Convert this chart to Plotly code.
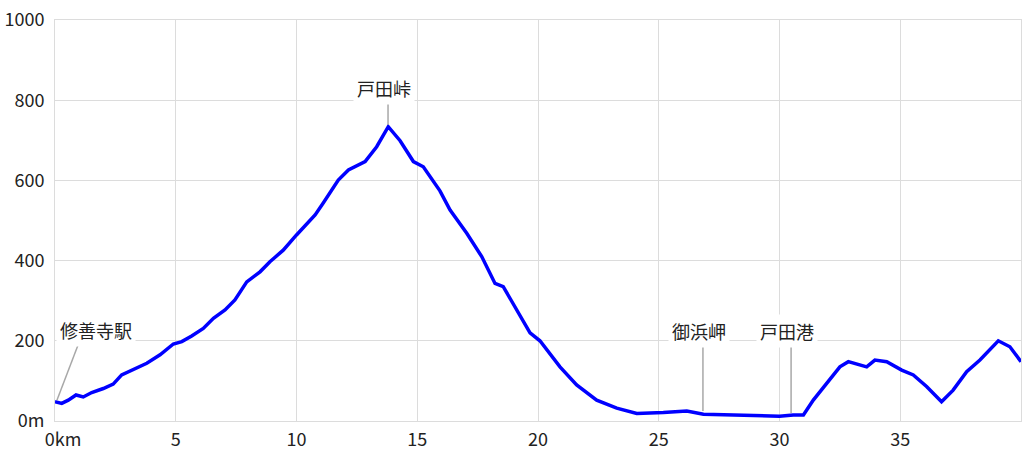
import plotly.graph_objects as go

# Elevation profile (distance km, elevation m)
dist_km = [0.0, 0.28, 0.55, 0.87, 1.17, 1.52, 2.0, 2.41, 2.76, 3.1, 3.8, 4.35, 4.9, 5.25,
           5.66, 6.14, 6.56, 7.04, 7.45, 7.94, 8.49, 8.9, 9.45, 10.0, 10.77, 11.1, 11.73,
           12.15, 12.84, 13.32, 13.8, 14.29, 14.84, 15.25, 15.94, 16.36, 17.05, 17.67,
           18.22, 18.56, 19.12, 19.67, 20.08, 20.91, 21.6, 22.43, 23.26, 24.09, 25.19,
           26.16, 26.85, 27.95, 29.06, 30.0, 30.57, 30.99, 31.4, 31.95, 32.5, 32.85,
           33.26, 33.61, 33.95, 34.44, 35.06, 35.54, 36.09, 36.71, 37.19, 37.75, 38.3,
           39.06, 39.54, 40.0]
elev_m = [48, 44, 52, 65, 60, 71, 81, 92, 115, 125, 144, 165, 192, 198,
          212, 231, 256, 277, 302, 347, 372, 397, 426, 464, 514, 543, 601,
          626, 647, 684, 734, 699, 647, 634, 574, 526, 468, 410,
          343, 335, 277, 220, 200, 135, 90, 52, 32, 19, 21,
          25, 17, 16, 13, 12, 15, 15, 52, 94, 135, 148,
          140, 135, 152, 148, 127, 115, 86, 48, 77, 123, 152,
          200, 185, 148]

# Place labels
label_text = ["修善寺駅", "戸田峠", "御浜岬", "戸田港"]
label_km = [1.70, 13.62, 26.67, 30.31]
label_elev = [227, 830, 224, 224]
leader_from_km = [0.08, 13.79, 26.83, 30.48]
leader_from_elev = [52, 738, 25, 20]
leader_to_km = [0.99, 13.79, 26.83, 30.48]
leader_to_elev = [195, 798, 200, 197]

x_tickvals = [0, 5, 10, 15, 20, 25, 30, 35]
x_ticktext = ["\u00a0\u00a0\u00a0\u00a00km", "5", "10", "15", "20", "25", "30", "35"]
y_tickvals = [0, 200, 400, 600, 800, 1000]
y_ticktext = ["0m", "200", "400", "600", "800", "1000"]

FONT = "Noto Sans CJK JP"
GRID = "#dcdcdc"

fig = go.Figure()
fig.add_trace(go.Scatter(x=dist_km, y=elev_m, mode="lines",
                         line=dict(color="#0000ff", width=3.5),
                         hoverinfo="skip", showlegend=False))

for i in range(len(label_text)):
    fig.add_shape(type="line", xref="x", yref="y",
                  x0=leader_from_km[i], y0=leader_from_elev[i],
                  x1=leader_to_km[i], y1=leader_to_elev[i],
                  line=dict(color="#a8a8a8", width=1.5), layer="above")
    fig.add_annotation(x=label_km[i], y=label_elev[i], xref="x", yref="y",
                       text=label_text[i], showarrow=False,
                       font=dict(family=FONT, size=18, color="#222222"),
                       bgcolor="white", borderpad=3)

fig.update_layout(
    width=1024, height=455,
    margin=dict(l=55, r=3, t=20, b=34),
    paper_bgcolor="white", plot_bgcolor="white",
    font=dict(family=FONT, size=18, color="#222222"),
    showlegend=False,
    xaxis=dict(range=[0, 40], tickvals=x_tickvals, ticktext=x_ticktext,
               showgrid=True, gridcolor=GRID, gridwidth=1, zeroline=False,
               showline=True, linecolor=GRID, linewidth=1, mirror=True,
               ticks="", ticklabelstandoff=2, fixedrange=True, automargin=False),
    yaxis=dict(range=[0, 1000], tickvals=y_tickvals, ticktext=y_ticktext,
               showgrid=True, gridcolor=GRID, gridwidth=1, zeroline=False,
               showline=True, linecolor=GRID, linewidth=1, mirror=True,
               ticks="", ticklabelstandoff=6, fixedrange=True, automargin=False),
)

fig.write_html("out.html",
               config={"displayModeBar": False},
               post_script="document.body.style.margin='0';document.body.style.overflow='hidden';")
